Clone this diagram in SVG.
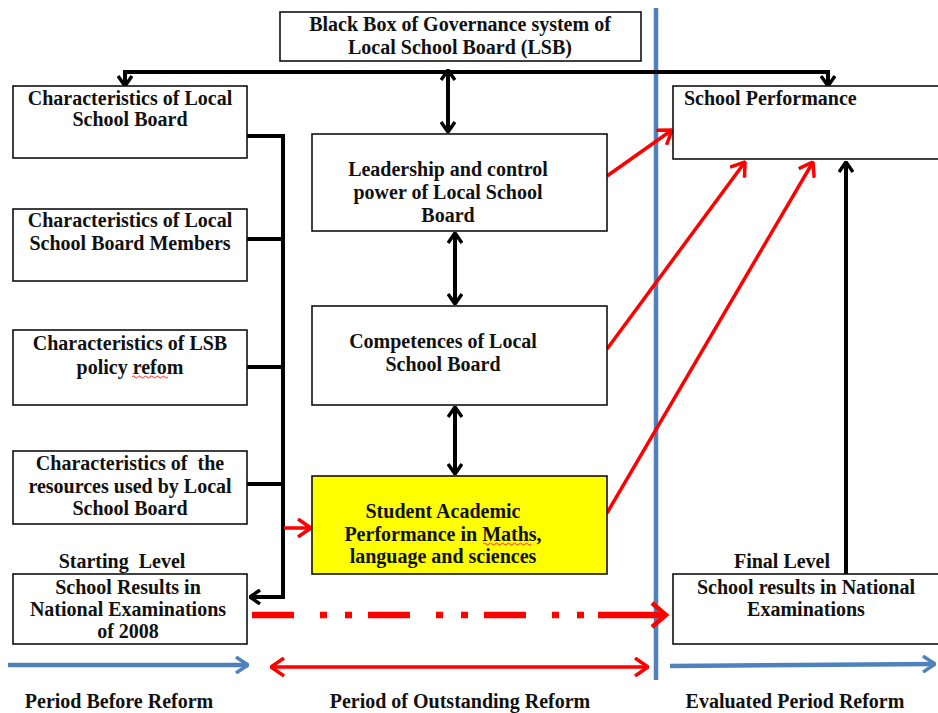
<svg xmlns="http://www.w3.org/2000/svg" width="938" height="713" viewBox="0 0 938 713">
<style>
.box{fill:#fff;stroke:#111;stroke-width:1.6}
.t{font-family:"Liberation Serif","Times New Roman",serif;font-weight:bold;font-size:20px;fill:#111;text-anchor:middle}
.tl{text-anchor:start}
.b{fill:none;stroke:#000;stroke-width:4}
.r{fill:none;stroke:#f00;stroke-width:3.5}
.bl{fill:none;stroke:#4f81bd;stroke-width:4.5}
.bt{font-family:"Liberation Serif","Times New Roman",serif;font-weight:bold;font-size:20px;fill:#111;text-anchor:middle}
</style>
<defs>
<marker id="ab" viewBox="0 0 12 16" refX="11" refY="8" markerWidth="12" markerHeight="16" markerUnits="userSpaceOnUse" orient="auto-start-reverse">
<path d="M1,1 L11,8 L1,15" fill="none" stroke="#000" stroke-width="3.5"/>
</marker>
<marker id="ar" viewBox="0 0 15 20" refX="14" refY="10" markerWidth="15" markerHeight="20" markerUnits="userSpaceOnUse" orient="auto-start-reverse">
<path d="M1,1 L14,10 L1,19" fill="none" stroke="#f00" stroke-width="3.5"/>
</marker>
<marker id="abl" viewBox="0 0 14 18" refX="13" refY="9" markerWidth="14" markerHeight="18" markerUnits="userSpaceOnUse" orient="auto">
<path d="M1,1 L13,9 L1,17" fill="none" stroke="#4f81bd" stroke-width="3.5"/>
</marker>
</defs>
<rect width="938" height="713" fill="#fff"/>

<g id="periods">
<line class="bl" x1="656" y1="8" x2="656" y2="680"/>
<line class="bl" x1="8" y1="665" x2="248" y2="665" marker-end="url(#abl)"/>
<line class="bl" x1="670" y1="666" x2="935" y2="664" marker-end="url(#abl)"/>
<text class="bt" x="119" y="708">Period Before Reform</text>
<text class="bt" x="460" y="708">Period of Outstanding Reform</text>
<text class="bt" x="795" y="708">Evaluated Period Reform</text>
</g>

<g id="connectors">
<path class="b" d="M125,86 L125,72 L828,72 L828,86" marker-start="url(#ab)" marker-end="url(#ab)"/>
<line class="b" x1="448" y1="70" x2="448" y2="132" marker-start="url(#ab)" marker-end="url(#ab)"/>
<line class="b" x1="455" y1="233" x2="455" y2="304" marker-start="url(#ab)" marker-end="url(#ab)"/>
<line class="b" x1="455" y1="407" x2="455" y2="474" marker-start="url(#ab)" marker-end="url(#ab)"/>
<path class="b" d="M247,136 L283,136 L283,597 L250,597" marker-end="url(#ab)"/>
<line class="b" x1="247" y1="239" x2="283" y2="239"/>
<line class="b" x1="247" y1="367" x2="283" y2="367"/>
<line class="b" x1="247" y1="484" x2="283" y2="484"/>
<line class="b" x1="846" y1="575" x2="846" y2="162" marker-end="url(#ab)"/>
<line class="r" x1="284" y1="528" x2="311" y2="528" marker-end="url(#ar)"/>
<line class="r" x1="607" y1="176" x2="672" y2="130" marker-end="url(#ar)"/>
<line class="r" x1="607" y1="349" x2="745" y2="162" marker-end="url(#ar)"/>
<line class="r" x1="607" y1="513" x2="813" y2="162" marker-end="url(#ar)"/>
<line class="r" x1="271" y1="667" x2="648" y2="667" marker-start="url(#ar)" marker-end="url(#ar)"/>
<line x1="252" y1="615" x2="590" y2="615" fill="none" stroke="#f00" stroke-width="6.5" stroke-dasharray="42 26 7 18 7 16"/>
<line x1="598" y1="615" x2="663" y2="615" fill="none" stroke="#f00" stroke-width="6.5"/>
<path d="M652,603 L666,615 L652,627" fill="none" stroke="#f00" stroke-width="4.5"/>
</g>

<g id="blackbox">
<rect class="box" x="280" y="12" width="361" height="49"/>
<text class="t" x="460" y="31">Black Box of Governance system of</text>
<text class="t" x="460" y="54">Local School Board (LSB)</text>
</g>

<g id="char-lsb">
<rect class="box" x="13" y="86" width="234" height="72"/>
<text class="t" x="130" y="105">Characteristics of Local</text>
<text class="t" x="130" y="126">School Board</text>
</g>
<g id="char-members">
<rect class="box" x="13" y="209" width="234" height="72"/>
<text class="t" x="130" y="227">Characteristics of Local</text>
<text class="t" x="130" y="250">School Board Members</text>
</g>
<g id="char-policy">
<rect class="box" x="13" y="330" width="234" height="75"/>
<text class="t" x="130" y="350">Characteristics of LSB</text>
<text class="t" x="130" y="374">policy refom</text>
<path d="M132,377 q1.5,-2 3,0 t3,0 t3,0 t3,0 t3,0 t3,0 t3,0 t3,0 t3,0 t3,0 t3,0 t3,0" fill="none" stroke="#f00" stroke-width="0.8"/>
</g>
<g id="char-resources">
<rect class="box" x="13" y="451" width="234" height="73"/>
<text class="t" x="130" y="470">Characteristics of&#160; the</text>
<text class="t" x="130" y="493">resources used by Local</text>
<text class="t" x="130" y="515">School Board</text>
</g>
<g id="start-results">
<text class="t" x="122" y="568">Starting&#160; Level</text>
<rect class="box" x="13" y="574" width="234" height="70"/>
<text class="t" x="128" y="594">School Results in</text>
<text class="t" x="128" y="616">National Examinations</text>
<text class="t" x="128" y="638">of 2008</text>
</g>

<g id="leadership">
<rect class="box" x="312" y="134" width="295" height="97"/>
<text class="t" x="448" y="176">Leadership and control</text>
<text class="t" x="448" y="199">power of Local School</text>
<text class="t" x="448" y="222">Board</text>
</g>
<g id="competences">
<rect class="box" x="312" y="306" width="295" height="99"/>
<text class="t" x="443" y="348">Competences of Local</text>
<text class="t" x="443" y="371">School Board</text>
</g>
<g id="student">
<rect x="312" y="476" width="295" height="98" fill="#ffff00" stroke="#111" stroke-width="1.6"/>
<text class="t" x="443" y="518">Student Academic</text>
<text class="t" x="443" y="541">Performance in Maths,</text>
<text class="t" x="443" y="563">language and sciences</text>
<path d="M483,544 q1.5,-2 3,0 t3,0 t3,0 t3,0 t3,0 t3,0 t3,0 t3,0 t3,0 t3,0 t3,0 t3,0 t3,0 t3,0 t3,0 t3,0" fill="none" stroke="#f00" stroke-width="0.8"/>
</g>

<g id="school-performance">
<rect class="box" x="673" y="86" width="270" height="73"/>
<text class="t tl" x="684" y="105">School Performance</text>
</g>
<g id="final-results">
<text class="t" x="782" y="568">Final Level</text>
<rect class="box" x="673" y="574" width="270" height="70"/>
<text class="t" x="806" y="594">School results in National</text>
<text class="t" x="806" y="616">Examinations</text>
</g>
</svg>
